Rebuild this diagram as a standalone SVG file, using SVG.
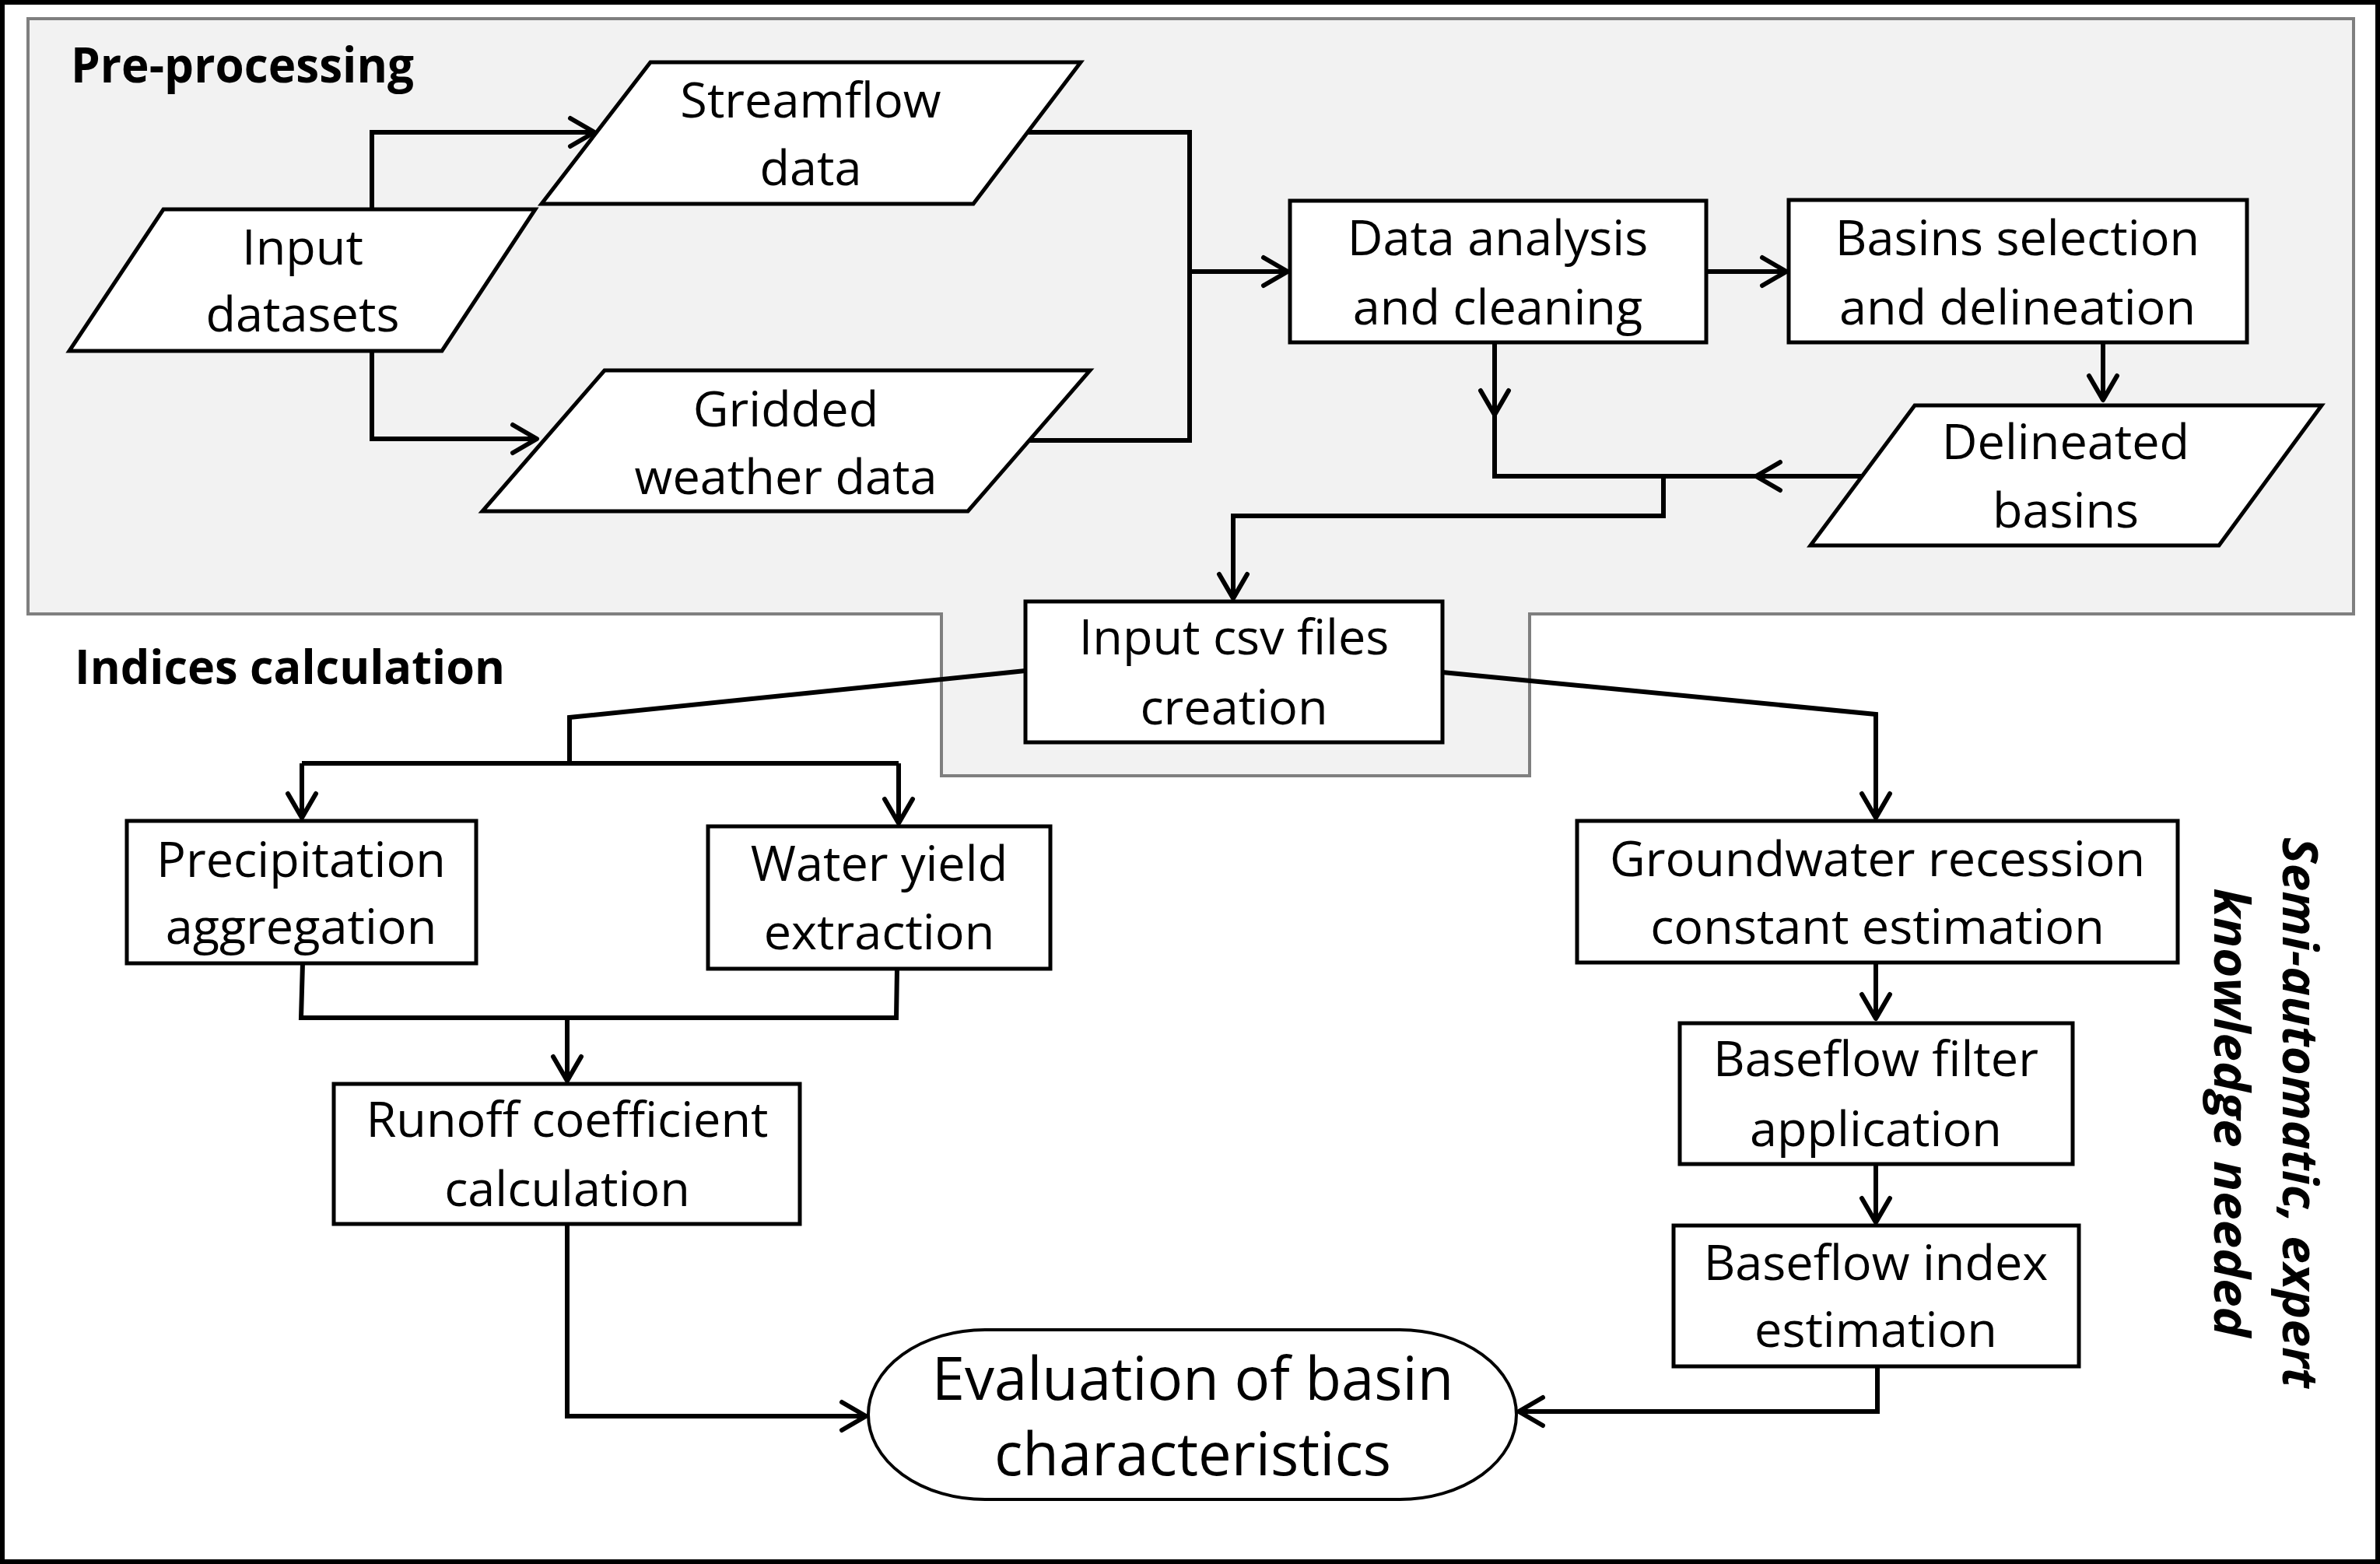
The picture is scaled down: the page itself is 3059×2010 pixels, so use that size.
<svg xmlns="http://www.w3.org/2000/svg" width="3059" height="2010" viewBox="0 0 3059 2010">
<style>
.box{fill:#fff;stroke:#000;stroke-width:5}
.t{font-family:"Open Sans","Liberation Sans",sans-serif;font-size:63px;fill:#000;text-anchor:middle}
.big{font-size:76px}
.title{font-family:"Open Sans","Liberation Sans",sans-serif;font-weight:bold;fill:#000}
.c{fill:none;stroke:#000;stroke-width:6;stroke-linejoin:miter}
</style>
<defs>
<marker id="arr" markerUnits="userSpaceOnUse" markerWidth="50" markerHeight="50" viewBox="-40 -25 50 50" refX="0" refY="0" orient="auto" overflow="visible">
<path d="M-31,-18 L0,0 L-31,18" fill="none" stroke="#000" stroke-width="6" stroke-linecap="round" stroke-linejoin="round"/>
</marker>
</defs>
<rect x="0" y="0" width="3059" height="2010" fill="#fff"/>
<rect x="3" y="3" width="3053" height="2004" fill="none" stroke="#000" stroke-width="6"/>
<g id="preprocessing-area">
<polygon points="36,24 3025,24 3025,789 1966,789 1966,997 1210,997 1210,789 36,789" fill="#f2f2f2" stroke="#7f7f7f" stroke-width="4"/>
<text class="title" x="91" y="106" font-size="63" textLength="441" lengthAdjust="spacingAndGlyphs">Pre-processing</text>
</g>
<text class="title" x="96" y="879" font-size="60" textLength="553" lengthAdjust="spacingAndGlyphs">Indices calculation</text>
<g id="connectors">
<path class="c" d="M478,269 L478,170 L764,170" marker-end="url(#arr)"/>
<path class="c" d="M478,451 L478,564 L690,564" marker-end="url(#arr)"/>
<path class="c" d="M1321,170 L1529,170 L1529,566 L1323,566"/>
<path class="c" d="M1529,349 L1655,349" marker-end="url(#arr)"/>
<path class="c" d="M2193,349 L2296,349" marker-end="url(#arr)"/>
<path class="c" d="M2703,440 L2703,514" marker-end="url(#arr)"/>
<path class="c" d="M1921,440 L1921,533" marker-end="url(#arr)"/>
<path class="c" d="M1921,533 L1921,612 L2257,612"/>
<path class="c" d="M2393,612 L2257,612" marker-end="url(#arr)"/>
<path class="c" d="M2138,612 L2138,663 L1585,663 L1585,769" marker-end="url(#arr)"/>
<path class="c" d="M1318,862 L732,922 L732,981"/>
<path class="c" d="M388,981 L1155,981"/>
<path class="c" d="M388,981 L388,1051" marker-end="url(#arr)"/>
<path class="c" d="M1155,981 L1155,1058" marker-end="url(#arr)"/>
<path class="c" d="M1854,864 L2411,918 L2411,1051" marker-end="url(#arr)"/>
<path class="c" d="M389,1238 L387,1308 L1152,1308 L1153,1245"/>
<path class="c" d="M729,1308 L729,1389" marker-end="url(#arr)"/>
<path class="c" d="M729,1573 L729,1820 L1113,1820" marker-end="url(#arr)"/>
<path class="c" d="M2411,1237 L2411,1309" marker-end="url(#arr)"/>
<path class="c" d="M2411,1496 L2411,1571" marker-end="url(#arr)"/>
<path class="c" d="M2413,1756 L2413,1814 L1952,1814" marker-end="url(#arr)"/>
</g>
<g id="input-datasets">
<polygon class="box" points="210,269 688,269 568,451 89,451"/>
<text class="t" x="389" y="340">Input</text>
<text class="t" x="389" y="426">datasets</text>
</g>
<g id="streamflow-data">
<polygon class="box" points="836,80 1389,80 1251,262 696,262"/>
<text class="t" x="1042" y="151">Streamflow</text>
<text class="t" x="1042" y="238">data</text>
</g>
<g id="gridded-weather-data">
<polygon class="box" points="777,476 1401,476 1244,657 620,657"/>
<text class="t" x="1010" y="548">Gridded</text>
<text class="t" x="1010" y="635">weather data</text>
</g>
<g id="data-analysis">
<rect class="box" x="1658" y="258" width="535" height="182"/>
<text class="t" x="1925" y="328">Data analysis</text>
<text class="t" x="1925" y="417">and cleaning</text>
</g>
<g id="basins-selection">
<rect class="box" x="2299" y="257" width="589" height="183"/>
<text class="t" x="2593" y="328">Basins selection</text>
<text class="t" x="2593" y="417">and delineation</text>
</g>
<g id="delineated-basins">
<polygon class="box" points="2461,521 2984,521 2852,701 2327,701"/>
<text class="t" x="2655" y="590">Delineated</text>
<text class="t" x="2655" y="678">basins</text>
</g>
<g id="input-csv">
<rect class="box" x="1318" y="773" width="536" height="181"/>
<text class="t" x="1586" y="841">Input csv files</text>
<text class="t" x="1586" y="931">creation</text>
</g>
<g id="precipitation">
<rect class="box" x="163" y="1055" width="449" height="183"/>
<text class="t" x="387" y="1127">Precipitation</text>
<text class="t" x="387" y="1213">aggregation</text>
</g>
<g id="water-yield">
<rect class="box" x="910" y="1062" width="440" height="183"/>
<text class="t" x="1130" y="1132">Water yield</text>
<text class="t" x="1130" y="1220">extraction</text>
</g>
<g id="runoff">
<rect class="box" x="429" y="1393" width="599" height="180"/>
<text class="t" x="729" y="1461">Runoff coefficient</text>
<text class="t" x="729" y="1550">calculation</text>
</g>
<g id="groundwater">
<rect class="box" x="2027" y="1055" width="772" height="182"/>
<text class="t" x="2413" y="1126">Groundwater recession</text>
<text class="t" x="2413" y="1213">constant estimation</text>
</g>
<g id="baseflow-filter">
<rect class="box" x="2159" y="1315" width="505" height="181"/>
<text class="t" x="2411" y="1383">Baseflow filter</text>
<text class="t" x="2411" y="1473">application</text>
</g>
<g id="baseflow-index">
<rect class="box" x="2151" y="1575" width="521" height="181"/>
<text class="t" x="2411" y="1645">Baseflow index</text>
<text class="t" x="2411" y="1731">estimation</text>
</g>
<g id="evaluation">
<rect x="1116" y="1709" width="833" height="218" rx="150" ry="109" fill="#fff" stroke="#000" stroke-width="4"/>
<text class="t big" x="1533" y="1799">Evaluation of basin</text>
<text class="t big" x="1533" y="1896">characteristics</text>
</g>
<g id="semi-automatic-note" transform="translate(2934,1430) rotate(90)">
<text class="title" x="0" y="0" font-size="63" font-style="italic" text-anchor="middle" textLength="708" lengthAdjust="spacingAndGlyphs">Semi-automatic, expert</text>
<text class="title" x="0" y="88" font-size="63" font-style="italic" text-anchor="middle" textLength="577" lengthAdjust="spacingAndGlyphs">knowledge needed</text>
</g>
</svg>
